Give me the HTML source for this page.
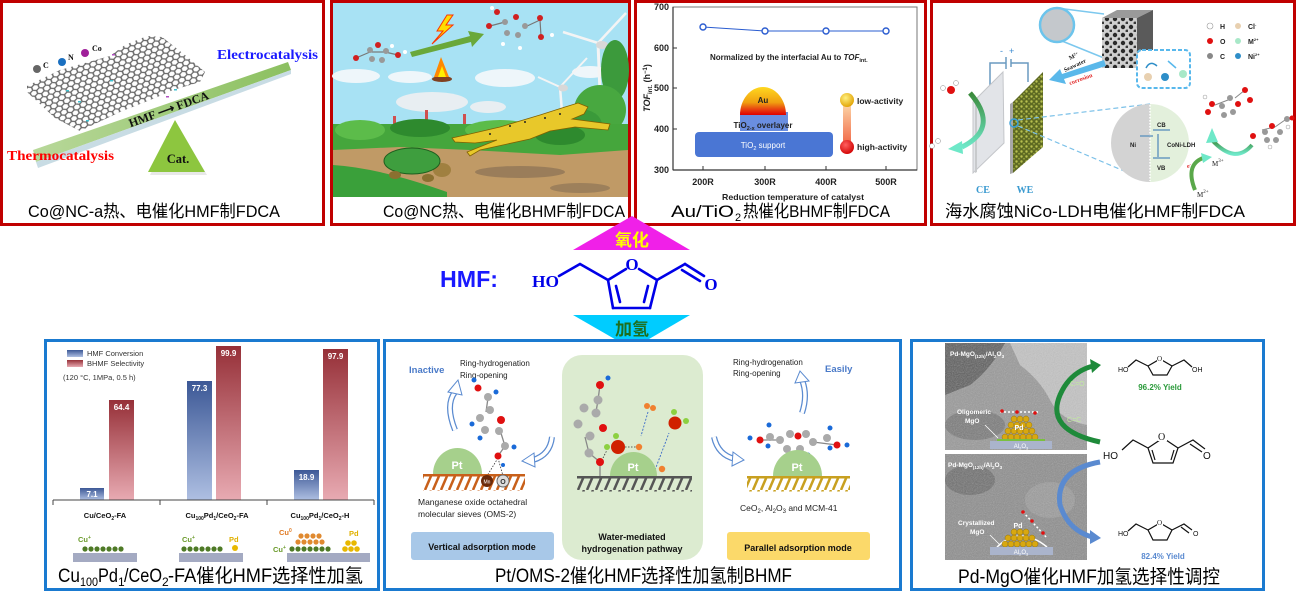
<!DOCTYPE html>
<html><head><meta charset="utf-8">
<style>
html,body{margin:0;padding:0;background:#fff;}
svg{display:block;}
text{font-family:"Liberation Sans","Noto Sans CJK SC",sans-serif;}
.cap{font-family:"Liberation Sans","Noto Sans CJK SC",sans-serif;font-size:17px;fill:#000;}
.capb{font-family:"Liberation Sans","Noto Sans CJK SC",sans-serif;font-size:19px;fill:#000;}
.tm{font-family:"Liberation Serif","Noto Serif CJK SC",serif;}
.b{font-weight:bold;}
</style></head><body>
<svg width="1298" height="598" viewBox="0 0 1298 598" xmlns="http://www.w3.org/2000/svg">
<defs>
  <pattern id="hex" patternUnits="userSpaceOnUse" width="6.93" height="12" patternTransform="rotate(-22) scale(1,0.8)">
    <rect width="6.93" height="12" fill="#fff"/>
    <path d="M0,2 L3.46,0 L6.93,2 L6.93,6 L3.46,8 L0,6 Z M3.46,8 L3.46,12" fill="none" stroke="#666" stroke-width="1.5"/>
  </pattern>
  <linearGradient id="beam" x1="0" y1="0" x2="1" y2="0">
    <stop offset="0" stop-color="#b8d89a"/><stop offset="1" stop-color="#8cc060"/>
  </linearGradient>
  <linearGradient id="au" x1="0" y1="0" x2="0" y2="1">
    <stop offset="0" stop-color="#ffd820"/><stop offset="0.55" stop-color="#f0a010"/><stop offset="0.8" stop-color="#e84010"/><stop offset="1" stop-color="#e00000"/>
  </linearGradient>
  <linearGradient id="leg" x1="0" y1="0" x2="0" y2="1">
    <stop offset="0" stop-color="#fde0b0"/><stop offset="1" stop-color="#f06040"/>
  </linearGradient>
  <radialGradient id="gold" cx="0.4" cy="0.35" r="0.7">
    <stop offset="0" stop-color="#fff080"/><stop offset="1" stop-color="#e0a000"/>
  </radialGradient>
  <radialGradient id="redb" cx="0.4" cy="0.35" r="0.7">
    <stop offset="0" stop-color="#ff6060"/><stop offset="1" stop-color="#d00000"/>
  </radialGradient>
  <linearGradient id="bb" x1="0" y1="0" x2="0" y2="1">
    <stop offset="0" stop-color="#3c5896"/><stop offset="1" stop-color="#aebfe2"/>
  </linearGradient>
  <linearGradient id="rb" x1="0" y1="0" x2="0" y2="1">
    <stop offset="0" stop-color="#963038"/><stop offset="1" stop-color="#e8aab2"/>
  </linearGradient>
  <linearGradient id="garr" x1="0" y1="0" x2="0" y2="1">
    <stop offset="0" stop-color="#3a8a3a"/><stop offset="1" stop-color="#6ee8c8"/>
  </linearGradient>
  <pattern id="hatchO" patternUnits="userSpaceOnUse" width="8" height="14">
    <path d="M7,0 L1,14" stroke="#c8601a" stroke-width="2.5"/>
  </pattern>
  <pattern id="hatchG" patternUnits="userSpaceOnUse" width="9" height="14">
    <path d="M8,0 L2,14" stroke="#555" stroke-width="2.5"/>
  </pattern>
  <pattern id="hatchY" patternUnits="userSpaceOnUse" width="8" height="14">
    <path d="M7,0 L1,14" stroke="#c8a020" stroke-width="2.5"/>
  </pattern>
  <pattern id="sem" patternUnits="userSpaceOnUse" width="8" height="8">
    <rect width="8" height="8" fill="#cfcfcf"/>
    <circle cx="3" cy="3" r="2.2" fill="#2a2a2a"/><circle cx="7" cy="7" r="1.5" fill="#3a3a3a"/>
  </pattern>
  <pattern id="weP" patternUnits="userSpaceOnUse" width="5" height="5">
    <rect width="5" height="5" fill="#5e6a22"/>
    <circle cx="1.5" cy="1.5" r="1.2" fill="#b8c050"/><circle cx="4" cy="3.8" r="0.9" fill="#9aa440"/>
  </pattern>
  <filter id="noise" x="0" y="0" width="100%" height="100%">
    <feTurbulence type="fractalNoise" baseFrequency="0.9" numOctaves="1" result="n"/>
    <feColorMatrix type="saturate" values="0" in="n" result="g"/>
    <feComponentTransfer in="g" result="g2"><feFuncA type="linear" slope="0.35"/></feComponentTransfer>
    <feComposite in="g2" in2="SourceGraphic" operator="in" result="c"/>
    <feMerge><feMergeNode in="SourceGraphic"/><feMergeNode in="c"/></feMerge>
  </filter>
</defs>

<!-- ================= PANEL 1 ================= -->
<rect x="1.5" y="1.5" width="322" height="223" fill="#fff" stroke="#c00000" stroke-width="3"/>
<polygon points="27,86 60,70 110,56 125,45 147,36 162,37 185,55 205,72 200,82 173,90 155,98 120,112 80,131 55,118 27,92" fill="url(#hex)"/>
<rect x="66" y="90" width="3" height="1.5" fill="#40c0d0"/><rect x="78" y="101" width="3" height="1.5" fill="#40c0d0"/>
<rect x="110" y="80" width="3" height="1.5" fill="#40c0d0"/><rect x="174" y="89" width="3" height="1.5" fill="#40c0d0"/>
<rect x="166" y="96" width="3" height="1.5" fill="#b050c0"/><rect x="86" y="120" width="3" height="1.5" fill="#40c0d0"/>
<rect x="112" y="54" width="3" height="1.5" fill="#b050c0"/>
<circle cx="37" cy="69" r="4" fill="#666"/><text x="43" y="68" class="tm b" font-size="8" fill="#111">C</text>
<circle cx="62" cy="62" r="4" fill="#1a6fc0"/><text x="68" y="60" class="tm b" font-size="8" fill="#111">N</text>
<circle cx="85" cy="53" r="4" fill="#a0209a"/><text x="92" y="51" class="tm b" font-size="8" fill="#111">Co</text>
<polygon points="33,150 288,62 291,70 36,162" fill="url(#beam)"/>
<polygon points="36,162 291,70 291,74 38,168" fill="#c8dce4"/>
<text x="170" y="113" class="tm b" font-size="12" fill="#111" text-anchor="middle" transform="rotate(-20 170 113)">HMF ⟶ FDCA</text>
<text x="217" y="59" class="tm b" font-size="13.5" fill="#1a1aff" textLength="101" lengthAdjust="spacingAndGlyphs">Electrocatalysis</text>
<text x="7" y="160" class="tm b" font-size="13.5" fill="#ff0000" textLength="107" lengthAdjust="spacingAndGlyphs">Thermocatalysis</text>
<polygon points="177,124 150,175 207,175" fill="#d8d8d8" opacity="0.6"/>
<polygon points="175,120 148,172 205,172" fill="#8dc63f"/>
<text x="178" y="163" class="tm b" font-size="12.5" fill="#111" text-anchor="middle">Cat.</text>
<text x="28" y="217" class="cap" textLength="252" lengthAdjust="spacingAndGlyphs">Co@NC-a热、电催化HMF制FDCA</text>

<!-- ================= PANEL 2 ================= -->
<rect x="331.5" y="1.5" width="298" height="223" fill="#fff" stroke="#c00000" stroke-width="3"/>
<rect x="333" y="3" width="295" height="194" fill="#a8e2f4"/>
<ellipse cx="356" cy="76" rx="24" ry="7" fill="#eef6fa"/>
<ellipse cx="410" cy="77" rx="22" ry="6" fill="#eef6fa"/>
<ellipse cx="505" cy="78" rx="30" ry="9" fill="#eef6fa"/>
<ellipse cx="432" cy="102" rx="36" ry="10" fill="#e8eef2"/>
<ellipse cx="488" cy="107" rx="18" ry="6" fill="#e8eef2"/>
<ellipse cx="590" cy="72" rx="18" ry="6" fill="#eef6fa"/>
<rect x="393" y="116" width="3" height="12" fill="#d05050"/>
<rect x="425" y="110" width="3" height="16" fill="#d05050"/>
<rect x="463" y="114" width="3" height="12" fill="#d05050"/>
<line x1="598" y1="43" x2="600" y2="92" stroke="#f4f4f4" stroke-width="3"/>
<line x1="598" y1="43" x2="626" y2="13" stroke="#f4f4f4" stroke-width="2.5"/>
<line x1="598" y1="43" x2="563" y2="32" stroke="#f4f4f4" stroke-width="2.5"/>
<ellipse cx="602" cy="45" rx="6" ry="4" fill="#d8d8d8"/>
<line x1="560" y1="87" x2="562" y2="112" stroke="#f4f4f4" stroke-width="2.5"/>
<line x1="560" y1="87" x2="587" y2="58" stroke="#f4f4f4" stroke-width="2"/>
<line x1="560" y1="87" x2="538" y2="77" stroke="#f4f4f4" stroke-width="2"/>
<ellipse cx="563" cy="88" rx="5" ry="3.5" fill="#d8d8d8"/>
<ellipse cx="615" cy="70" rx="14" ry="30" fill="#3c9a3c"/>
<ellipse cx="600" cy="110" rx="26" ry="25" fill="#48a840"/>
<ellipse cx="580" cy="125" rx="22" ry="16" fill="#3a9a3a"/>
<rect x="333" y="124" width="295" height="36" fill="#45a63c"/>
<ellipse cx="360" cy="130" rx="25" ry="10" fill="#5cbc4a"/>
<ellipse cx="420" cy="128" rx="30" ry="9" fill="#2e8a2e"/>
<ellipse cx="500" cy="130" rx="35" ry="10" fill="#5cbc4a"/>
<ellipse cx="560" cy="135" rx="25" ry="10" fill="#2e8a2e"/>
<path d="M333,150 L400,147 L470,150 L560,155 L628,150 L628,197 L333,197 Z" fill="#c09a66"/>
<ellipse cx="520" cy="172" rx="45" ry="6" fill="#7a6650" opacity="0.55"/>
<ellipse cx="580" cy="188" rx="30" ry="5" fill="#7a6650" opacity="0.5"/>
<path d="M333,165 Q380,168 447,192 L447,197 L333,197 Z" fill="#3aa03a"/>
<ellipse cx="442" cy="170" rx="9" ry="7" fill="#a08040"/>
<ellipse cx="412" cy="161" rx="28" ry="13" fill="#3e9e3e" stroke="#1e5e1e" stroke-width="1"/>
<ellipse cx="395" cy="175" rx="6" ry="4" fill="#8a7030"/>
<ellipse cx="428" cy="178" rx="6" ry="4" fill="#8a7030"/>
<path d="M452,138 L470,134 L500,127 L540,115 L565,107 L578,103 L588,107 L584,114 L572,119 L610,124 L608,130 L575,127 L550,131 L530,139 L480,150 L470,156 L467,152 L497,140 L475,143 L455,142 Z" fill="#e8c82a" stroke="#806000" stroke-width="0.8"/>
<circle cx="510" cy="126" r="1" fill="#222"/><circle cx="525" cy="122" r="1" fill="#222"/><circle cx="545" cy="118" r="1" fill="#222"/><circle cx="560" cy="114" r="1" fill="#222"/><circle cx="490" cy="134" r="1" fill="#222"/>
<g stroke="#777" stroke-width="1.2">
<line x1="356" y1="58" x2="370" y2="52"/><line x1="370" y1="52" x2="385" y2="52"/><line x1="385" y1="52" x2="398" y2="55"/>
</g>
<circle cx="370" cy="50" r="3" fill="#999"/><circle cx="378" cy="45" r="3" fill="#d02020"/><circle cx="386" cy="51" r="3" fill="#999"/><circle cx="382" cy="60" r="3" fill="#999"/><circle cx="372" cy="59" r="3" fill="#999"/>
<circle cx="356" cy="58" r="3" fill="#d02020"/><circle cx="398" cy="55" r="3" fill="#d02020"/><circle cx="392" cy="46" r="2" fill="#fff"/><circle cx="405" cy="52" r="2" fill="#fff"/>
<polygon points="447,15 437,31 443,31 432,44 453,25 446,25 453,15" fill="#ffdd00" stroke="#ff3300" stroke-width="1"/>
<polygon points="410,52 470,36 468,31 484,34 472,47 471,42 412,57" fill="#6aa83a"/>
<ellipse cx="442" cy="79" rx="10" ry="3" fill="#804020"/>
<polygon points="434,77 441,57 449,77" fill="#ff8800"/>
<polygon points="438,77 442,66 446,77" fill="#ffee00"/>
<g stroke="#777" stroke-width="1.2"><line x1="490" y1="26" x2="505" y2="22"/><line x1="525" y1="27" x2="540" y2="20"/><line x1="540" y1="20" x2="541" y2="36"/></g>
<circle cx="505" cy="22" r="3" fill="#999"/><circle cx="516" cy="17" r="3" fill="#d02020"/><circle cx="525" cy="26" r="3" fill="#999"/><circle cx="518" cy="35" r="3" fill="#999"/><circle cx="507" cy="33" r="3" fill="#999"/>
<circle cx="489" cy="26" r="3" fill="#d02020"/><circle cx="497" cy="12" r="3" fill="#d02020"/><circle cx="540" cy="18" r="3" fill="#d02020"/><circle cx="541" cy="37" r="3" fill="#d02020"/>
<circle cx="492" cy="8" r="2" fill="#fff"/><circle cx="552" cy="35" r="2" fill="#fff"/><circle cx="520" cy="48" r="2" fill="#fff"/><circle cx="503" cy="44" r="2" fill="#fff"/>
<text x="383" y="217" class="cap" textLength="242" lengthAdjust="spacingAndGlyphs">Co@NC热、电催化BHMF制FDCA</text>

<!-- ================= PANEL 3 ================= -->
<rect x="635.5" y="1.5" width="290" height="223" fill="#fff" stroke="#c00000" stroke-width="3"/>
<rect x="673" y="7" width="244" height="163" fill="none" stroke="#777" stroke-width="1"/>
<line x1="673" y1="7" x2="673" y2="170" stroke="#333" stroke-width="1.2"/>
<line x1="673" y1="170" x2="917" y2="170" stroke="#333" stroke-width="1.2"/>
<g font-size="9" font-weight="bold" fill="#222" text-anchor="end">
<text x="669" y="10">700</text><text x="669" y="51">600</text><text x="669" y="91">500</text><text x="669" y="132">400</text><text x="669" y="173">300</text>
</g>
<g stroke="#333" stroke-width="1"><line x1="673" y1="48" x2="677" y2="48"/><line x1="673" y1="88" x2="677" y2="88"/><line x1="673" y1="129" x2="677" y2="129"/>
<line x1="703" y1="170" x2="703" y2="166"/><line x1="765" y1="170" x2="765" y2="166"/><line x1="826" y1="170" x2="826" y2="166"/><line x1="886" y1="170" x2="886" y2="166"/></g>
<g font-size="9" font-weight="bold" fill="#222" text-anchor="middle">
<text x="703" y="185">200R</text><text x="765" y="185">300R</text><text x="826" y="185">400R</text><text x="886" y="185">500R</text>
</g>
<text x="793" y="200" font-size="8.5" font-weight="bold" fill="#222" text-anchor="middle" textLength="142" lengthAdjust="spacingAndGlyphs">Reduction temperature of catalyst</text>
<text transform="translate(650,88) rotate(-90)" font-size="9" font-weight="bold" fill="#222" text-anchor="middle"><tspan font-style="italic">TOF</tspan><tspan font-size="6" dy="2">int.</tspan><tspan dy="-2"> (h</tspan><tspan font-size="6" dy="-3">−1</tspan><tspan dy="3">)</tspan></text>
<polyline points="703,27 765,31 826,31 886,31" fill="none" stroke="#2a5cd0" stroke-width="1"/>
<g fill="#fff" stroke="#2a5cd0" stroke-width="1.4"><circle cx="703" cy="27" r="3"/><circle cx="765" cy="31" r="3"/><circle cx="826" cy="31" r="3"/><circle cx="886" cy="31" r="3"/></g>
<text x="710" y="60" font-size="8" font-weight="bold" fill="#222">Normalized by the interfacial Au to <tspan font-style="italic">TOF</tspan><tspan font-size="5.5" dy="2">int.</tspan></text>
<rect x="740" y="112" width="48" height="19" fill="#6a8ee0"/>
<path d="M740,115 A23,28 0 0 1 786,115 Z" fill="url(#au)"/>
<text x="763" y="103" font-size="8" font-weight="bold" fill="#222" text-anchor="middle">Au</text>
<text x="763" y="128" font-size="8" font-weight="bold" fill="#222" text-anchor="middle">TiO<tspan font-size="5.5" dy="2">2-x</tspan><tspan dy="-2"> overlayer</tspan></text>
<rect x="695" y="132" width="138" height="25" rx="4" fill="#4a76d4"/>
<text x="763" y="148" font-size="8" fill="#fff" text-anchor="middle">TiO<tspan font-size="5.5" dy="2">2</tspan><tspan dy="-2"> support</tspan></text>
<rect x="843" y="100" width="8" height="47" fill="url(#leg)"/>
<circle cx="847" cy="100" r="7" fill="url(#gold)"/>
<circle cx="847" cy="147" r="7" fill="url(#redb)"/>
<text x="857" y="104" font-size="8.5" font-weight="bold" fill="#222">low-activity</text>
<text x="857" y="150" font-size="8.5" font-weight="bold" fill="#222">high-activity</text>
<text x="671" y="217" class="cap" textLength="63" lengthAdjust="spacingAndGlyphs">Au/TiO</text>
<text x="735" y="221" style="font-size:11px;fill:#000;">2</text>
<text x="743" y="217" class="cap" textLength="147" lengthAdjust="spacingAndGlyphs">热催化BHMF制FDCA</text>

<!-- ================= PANEL 4 ================= -->
<rect x="931.5" y="1.5" width="363" height="223" fill="#fff" stroke="#c00000" stroke-width="3"/>
<line x1="1057" y1="8" x2="1104" y2="14" stroke="#7cc8ee" stroke-width="1.5"/>
<line x1="1062" y1="41" x2="1104" y2="58" stroke="#7cc8ee" stroke-width="1.5"/>
<circle cx="1057" cy="25" r="17" fill="#c4c8cc" stroke="#6cc4ec" stroke-width="2.5"/>
<polygon points="1102,18 1117,10 1153,10 1137,18" fill="#9a9a9a"/>
<polygon points="1137,18 1153,10 1153,60 1137,68" fill="#5a5a5a"/>
<rect x="1102" y="18" width="35" height="50" fill="url(#sem)"/>
<rect x="1137" y="50" width="53" height="38" rx="5" fill="#fff" stroke="#58b8ec" stroke-width="2" stroke-dasharray="4 2"/>
<circle cx="1148" cy="77" r="4" fill="#e8d0b0"/><circle cx="1165" cy="77" r="4" fill="#2e8ec8"/><circle cx="1183" cy="74" r="4" fill="#a8e8c8"/>
<path d="M1146,68 Q1150,60 1157,66" fill="none" stroke="#2e8ec8" stroke-width="1.5"/>
<line x1="1176" y1="68" x2="1168" y2="61" stroke="#58b8ec" stroke-width="1.5"/>
<g class="tm" font-size="7" font-weight="bold" fill="#222">
<circle cx="1210" cy="26" r="3" fill="#fff" stroke="#999" stroke-width="0.6"/><text x="1220" y="29">H</text>
<circle cx="1238" cy="26" r="3" fill="#e8d0b0"/><text x="1248" y="29">Cl<tspan font-size="4" dy="-3">-</tspan></text>
<circle cx="1210" cy="41" r="3" fill="#e01010"/><text x="1220" y="44">O</text>
<circle cx="1238" cy="41" r="3" fill="#a8e8c8"/><text x="1248" y="44">M<tspan font-size="4" dy="-3">2+</tspan></text>
<circle cx="1210" cy="56" r="3" fill="#888"/><text x="1220" y="59">C</text>
<circle cx="1238" cy="56" r="3" fill="#2e8ec8"/><text x="1248" y="59">Ni<tspan font-size="4" dy="-3">2+</tspan></text>
</g>
<polyline points="990,86 990,63 1006,63" fill="none" stroke="#6a9ac0" stroke-width="1.5"/>
<polyline points="1011,63 1028,63 1028,82" fill="none" stroke="#6a9ac0" stroke-width="1.5"/>
<line x1="1006" y1="57" x2="1006" y2="69" stroke="#6a9ac0" stroke-width="1.5"/>
<line x1="1011" y1="59" x2="1011" y2="67" stroke="#6a9ac0" stroke-width="1.5"/>
<text x="1000" y="54" font-size="9" fill="#3a8ad0">-</text><text x="1009" y="54" font-size="9" fill="#3a8ad0">+</text>
<polygon points="973,102 1003,72 1004,143 973,173" fill="#e2e4e8" stroke="#c4c6ca" stroke-width="1"/>
<polygon points="975,102 977,101 977,172 975,173" fill="#c8cacc"/>
<polygon points="1013,102 1043,72 1043,147 1013,173" fill="url(#weP)"/>
<polygon points="1010,104 1013,102 1013,173 1010,174" fill="#a8a8a8"/>
<circle cx="1014" cy="123" r="4" fill="none" stroke="#3aa0d8" stroke-width="1.5"/>
<line x1="1018" y1="120" x2="1150" y2="104" stroke="#7ac0e8" stroke-width="1.2" stroke-dasharray="5 3"/>
<line x1="1018" y1="126" x2="1150" y2="182" stroke="#7ac0e8" stroke-width="1.2" stroke-dasharray="5 3"/>
<text x="983" y="193" class="tm b" font-size="10" fill="#3a9ad0" text-anchor="middle">CE</text>
<text x="1025" y="193" class="tm b" font-size="10" fill="#3a9ad0" text-anchor="middle">WE</text>
<polygon points="1104,60 1062,74 1060,69 1049,80 1066,84 1064,79 1106,66" fill="#5ab8ea"/>
<text x="1070" y="60" class="tm b" font-size="6" fill="#222" transform="rotate(-25 1070 60)">M<tspan font-size="4" dy="-2">2+</tspan></text>
<text x="1065" y="72" class="tm b" font-size="6" fill="#222" transform="rotate(-25 1065 72)">Seawater</text>
<text x="1070" y="85" class="tm b" font-size="6" fill="#e02020" transform="rotate(-20 1070 85)">corrosion</text>
<path d="M1150,104 A39,39 0 0 0 1150,182 Z" fill="#d3d3d3"/>
<path d="M1150,104 A39,39 0 0 1 1150,182 Z" fill="#e3f0dc"/>
<line x1="1150" y1="105" x2="1150" y2="181" stroke="#fff" stroke-width="1.5" stroke-dasharray="1.5 1.5"/>
<line x1="1153" y1="130" x2="1170" y2="130" stroke="#6a9ac0" stroke-width="1.5"/>
<line x1="1153" y1="158" x2="1170" y2="158" stroke="#6a9ac0" stroke-width="1.5"/>
<line x1="1158" y1="157" x2="1158" y2="134" stroke="#6a9ac0" stroke-width="1.5"/>
<line x1="1153" y1="136" x2="1140" y2="136" stroke="#6a9ac0" stroke-width="1.5"/>
<g class="tm b" font-size="6" fill="#222">
<text x="1157" y="127">CB</text><text x="1157" y="170">VB</text><text x="1130" y="147">Ni</text><text x="1167" y="147">CoNi-LDH</text>
</g>
<path d="M970,93 Q1000,128 962,147" fill="none" stroke="url(#garr)" stroke-width="5"/>
<polygon points="962,141 948,149 963,154" fill="#6ee8c8"/>
<circle cx="943" cy="88" r="2.5" fill="#fff" stroke="#888" stroke-width="0.5"/><circle cx="956" cy="83" r="2.5" fill="#fff" stroke="#888" stroke-width="0.5"/><circle cx="951" cy="90" r="4" fill="#e01010"/>
<circle cx="932" cy="146" r="2.5" fill="#fff" stroke="#888" stroke-width="0.5"/><circle cx="938" cy="141" r="2.5" fill="#fff" stroke="#888" stroke-width="0.5"/>
<g stroke="#888" stroke-width="1">
<line x1="1215" y1="105" x2="1228" y2="100"/><line x1="1235" y1="98" x2="1245" y2="90"/>
<line x1="1262" y1="130" x2="1275" y2="127"/><line x1="1275" y1="127" x2="1285" y2="120"/>
</g>
<circle cx="1222" cy="106" r="3" fill="#999"/><circle cx="1230" cy="98" r="3" fill="#999"/><circle cx="1238" cy="104" r="3" fill="#e01010"/><circle cx="1233" cy="112" r="3" fill="#999"/><circle cx="1224" cy="115" r="3" fill="#999"/>
<circle cx="1212" cy="104" r="3" fill="#e01010"/><circle cx="1208" cy="112" r="3" fill="#e01010"/><circle cx="1245" cy="90" r="3" fill="#e01010"/><circle cx="1250" cy="100" r="3" fill="#e01010"/><circle cx="1205" cy="97" r="2" fill="#fff" stroke="#999" stroke-width="0.5"/>
<circle cx="1265" cy="132" r="3" fill="#999"/><circle cx="1272" cy="126" r="3" fill="#e01010"/><circle cx="1280" cy="132" r="3" fill="#999"/><circle cx="1276" cy="140" r="3" fill="#999"/><circle cx="1267" cy="140" r="3" fill="#999"/>
<circle cx="1253" cy="136" r="3" fill="#e01010"/><circle cx="1287" cy="119" r="3" fill="#999"/><circle cx="1292" cy="118" r="2.5" fill="#e01010"/><circle cx="1288" cy="127" r="2" fill="#fff" stroke="#999" stroke-width="0.5"/><circle cx="1270" cy="147" r="2" fill="#fff" stroke="#999" stroke-width="0.5"/>
<path d="M1252,145 Q1235,165 1212,140" fill="none" stroke="url(#garr)" stroke-width="4"/>
<polygon points="1206,143 1212,128 1218,142" fill="#6ee8c8"/>
<path d="M1195,190 Q1185,165 1203,158" fill="none" stroke="#5aa84a" stroke-width="4"/>
<polygon points="1201,153 1212,157 1203,163" fill="#6ee8c8"/>
<text x="1187" y="168" class="tm b" font-size="6" fill="#e02020">e<tspan font-size="4" dy="-2">-</tspan></text>
<text x="1212" y="166" class="tm" font-size="7" fill="#222">M<tspan font-size="5" dy="-4">3+</tspan></text>
<text x="1197" y="197" class="tm" font-size="7" fill="#222">M<tspan font-size="5" dy="-4">2+</tspan></text>
<text x="945" y="217" class="cap" textLength="300" lengthAdjust="spacingAndGlyphs">海水腐蚀NiCo-LDH电催化HMF制FDCA</text>

<!-- ================= MIDDLE ================= -->
<polygon points="632,216 573,250 690,250" fill="#f020e8"/>
<text x="632" y="246" font-size="17" font-weight="bold" fill="#ffff00" text-anchor="middle">氧化</text>
<text x="440" y="287" font-size="23" font-weight="bold" fill="#1a1aff" textLength="58" lengthAdjust="spacingAndGlyphs">HMF:</text>
<g stroke="#0000e8" stroke-width="2.6" fill="none" stroke-linecap="round">
<polyline points="559,276 580,264 608,280"/>
<line x1="608" y1="280" x2="626" y2="269"/>
<line x1="639" y1="269" x2="657" y2="280"/>
<line x1="608" y1="280" x2="613" y2="308"/>
<line x1="613" y1="308" x2="650" y2="308"/>
<line x1="650" y1="308" x2="657" y2="280"/>
<line x1="616" y1="286" x2="620" y2="302"/>
<line x1="648" y1="286" x2="644" y2="302"/>
<line x1="657" y1="280" x2="685" y2="264"/>
<line x1="685" y1="264" x2="704" y2="276"/>
<line x1="682" y1="270" x2="700" y2="281"/>
</g>
<text x="532" y="287" class="tm b" font-size="17" fill="#0000e8" textLength="27" lengthAdjust="spacingAndGlyphs">HO</text>
<text x="632" y="270" class="tm b" font-size="17" fill="#0000e8" text-anchor="middle">O</text>
<text x="711" y="290" class="tm b" font-size="17" fill="#0000e8" text-anchor="middle">O</text>
<polygon points="573,315 690,315 632,349" fill="#00ccff"/>
<text x="632" y="335" font-size="17" font-weight="bold" fill="#1e6e1e" text-anchor="middle">加氢</text>

<!-- ================= PANEL A (bottom-left) ================= -->
<rect x="45.5" y="340.5" width="333" height="249" fill="#fff" stroke="#1a7ad0" stroke-width="3"/>
<rect x="67" y="350" width="16" height="7" fill="url(#bb)"/>
<rect x="67" y="360" width="16" height="7" fill="url(#rb)"/>
<g font-size="7.5" fill="#333">
<text x="87" y="356">HMF Conversion</text><text x="87" y="366">BHMF Selectivity</text>
<text x="63" y="380">(120 °C, 1MPa, 0.5 h)</text>
</g>
<rect x="80" y="488" width="24" height="12" fill="url(#bb)"/>
<rect x="109" y="400" width="25" height="100" fill="url(#rb)"/>
<rect x="187" y="381" width="25" height="119" fill="url(#bb)"/>
<rect x="216" y="346" width="25" height="154" fill="url(#rb)"/>
<rect x="294" y="470" width="25" height="30" fill="url(#bb)"/>
<rect x="323" y="349" width="25" height="151" fill="url(#rb)"/>
<g font-size="8" font-weight="bold" fill="#fff" text-anchor="middle">
<text x="92" y="497">7.1</text><text x="121.5" y="410">64.4</text>
<text x="199.5" y="391">77.3</text><text x="228.5" y="356">99.9</text>
<text x="306.5" y="480">18.9</text><text x="335.5" y="359">97.9</text>
</g>
<line x1="53" y1="500" x2="374" y2="500" stroke="#444" stroke-width="1"/>
<g stroke="#444" stroke-width="1"><line x1="53" y1="500" x2="53" y2="505"/><line x1="160" y1="500" x2="160" y2="505"/><line x1="267" y1="500" x2="267" y2="505"/><line x1="374" y1="500" x2="374" y2="505"/></g>
<g font-size="7.5" font-weight="bold" fill="#111" text-anchor="middle">
<text x="105" y="518">Cu/CeO<tspan font-size="5" dy="2">2</tspan><tspan dy="-2">-FA</tspan></text>
<text x="217" y="518">Cu<tspan font-size="5" dy="2">100</tspan><tspan dy="-2">Pd</tspan><tspan font-size="5" dy="2">1</tspan><tspan dy="-2">/CeO</tspan><tspan font-size="5" dy="2">2</tspan><tspan dy="-2">-FA</tspan></text>
<text x="320" y="518">Cu<tspan font-size="5" dy="2">100</tspan><tspan dy="-2">Pd</tspan><tspan font-size="5" dy="2">1</tspan><tspan dy="-2">/CeO</tspan><tspan font-size="5" dy="2">2</tspan><tspan dy="-2">-H</tspan></text>
</g>
<rect x="73" y="553" width="64" height="9" fill="#a4aac2"/>
<rect x="179" y="553" width="64" height="9" fill="#a4aac2"/>
<rect x="287" y="553" width="83" height="9" fill="#a4aac2"/>
<g fill="#4e7a26">
<circle cx="85" cy="549" r="2.6"/><circle cx="91" cy="549" r="2.6"/><circle cx="97" cy="549" r="2.6"/><circle cx="103" cy="549" r="2.6"/><circle cx="109" cy="549" r="2.6"/><circle cx="115" cy="549" r="2.6"/><circle cx="121" cy="549" r="2.6"/>
<circle cx="184" cy="549" r="2.6"/><circle cx="190" cy="549" r="2.6"/><circle cx="196" cy="549" r="2.6"/><circle cx="202" cy="549" r="2.6"/><circle cx="208" cy="549" r="2.6"/><circle cx="214" cy="549" r="2.6"/><circle cx="220" cy="549" r="2.6"/>
<circle cx="292" cy="549" r="2.6"/><circle cx="298" cy="549" r="2.6"/><circle cx="304" cy="549" r="2.6"/><circle cx="310" cy="549" r="2.6"/><circle cx="316" cy="549" r="2.6"/><circle cx="322" cy="549" r="2.6"/><circle cx="328" cy="549" r="2.6"/>
</g>
<g fill="#e08a30">
<circle cx="298" cy="542" r="2.6"/><circle cx="304" cy="542" r="2.6"/><circle cx="310" cy="542" r="2.6"/><circle cx="316" cy="542" r="2.6"/><circle cx="322" cy="542" r="2.6"/>
<circle cx="301" cy="536" r="2.6"/><circle cx="307" cy="536" r="2.6"/><circle cx="313" cy="536" r="2.6"/><circle cx="319" cy="536" r="2.6"/>
</g>
<g fill="#e8b800">
<circle cx="235" cy="548" r="3"/>
<circle cx="345" cy="549" r="2.8"/><circle cx="351" cy="549" r="2.8"/><circle cx="357" cy="549" r="2.8"/><circle cx="348" cy="543" r="2.8"/><circle cx="354" cy="543" r="2.8"/>
</g>
<g font-size="7.5" font-weight="bold">
<text x="78" y="542" fill="#6a9a2a">Cu<tspan font-size="5" dy="-3">+</tspan></text>
<text x="182" y="542" fill="#6a9a2a">Cu<tspan font-size="5" dy="-3">+</tspan></text>
<text x="229" y="542" fill="#e0b000">Pd</text>
<text x="279" y="535" fill="#e07820">Cu<tspan font-size="5" dy="-3">0</tspan></text>
<text x="273" y="552" fill="#6a9a2a">Cu<tspan font-size="5" dy="-3">+</tspan></text>
<text x="349" y="536" fill="#e0b000">Pd</text>
</g>
<text x="58" y="582" class="capb" textLength="22" lengthAdjust="spacingAndGlyphs">Cu</text>
<text x="80" y="586" style="font-size:12px;fill:#000;" textLength="18" lengthAdjust="spacingAndGlyphs">100</text>
<text x="98" y="582" class="capb" textLength="20" lengthAdjust="spacingAndGlyphs">Pd</text>
<text x="118" y="586" style="font-size:12px;fill:#000;">1</text>
<text x="124" y="582" class="capb" textLength="38" lengthAdjust="spacingAndGlyphs">/CeO</text>
<text x="162" y="586" style="font-size:12px;fill:#000;">2</text>
<text x="168" y="582" class="capb" textLength="195" lengthAdjust="spacingAndGlyphs">-FA催化HMF选择性加氢</text>

<!-- ================= PANEL B (bottom-middle) ================= -->
<rect x="384.5" y="340.5" width="516" height="249" fill="#fff" stroke="#1a7ad0" stroke-width="3"/>
<rect x="562" y="355" width="141" height="205" rx="20" fill="#dcebd0"/>
<text x="409" y="373" font-size="9.5" font-weight="bold" fill="#4a7ac8">Inactive</text>
<text x="460" y="366" font-size="8" fill="#222">Ring-hydrogenation</text>
<text x="460" y="378" font-size="8" fill="#222">Ring-opening</text>
<path d="M455,430 Q445,405 455,392" fill="none" stroke="#5b8bd0" stroke-width="6"/>
<path d="M455,430 Q445,405 455,392" fill="none" stroke="#fff" stroke-width="3.5"/>
<polygon points="448,392 458,380 462,395" fill="#fff" stroke="#5b8bd0" stroke-width="1"/>
<path d="M552,437 Q550,455 533,460" fill="none" stroke="#5b8bd0" stroke-width="6"/>
<path d="M552,437 Q550,455 533,460" fill="none" stroke="#fff" stroke-width="3.5"/>
<polygon points="534,453 522,461 535,467" fill="#fff" stroke="#5b8bd0" stroke-width="1"/>
<g stroke="#888" stroke-width="1.3">
<line x1="488" y1="398" x2="486" y2="412"/><line x1="500" y1="430" x2="505" y2="446"/><line x1="505" y1="446" x2="498" y2="456"/>
</g>
<g stroke="#333" stroke-width="0.8" stroke-dasharray="1.5 1.5"><line x1="498" y1="458" x2="487" y2="476"/><line x1="498" y1="458" x2="503" y2="476"/></g>
<circle cx="480" cy="418" r="4" fill="#aaa"/><circle cx="490" cy="410" r="4" fill="#aaa"/><circle cx="501" cy="420" r="4" fill="#e01010"/><circle cx="499" cy="431" r="4" fill="#aaa"/><circle cx="485" cy="430" r="4" fill="#aaa"/>
<circle cx="488" cy="397" r="4" fill="#aaa"/><circle cx="478" cy="388" r="3.5" fill="#e01010"/><circle cx="474" cy="380" r="2.5" fill="#1a6ad8"/><circle cx="496" cy="392" r="2.5" fill="#1a6ad8"/>
<circle cx="472" cy="424" r="2.5" fill="#1a6ad8"/><circle cx="480" cy="438" r="2.5" fill="#1a6ad8"/>
<circle cx="505" cy="446" r="4" fill="#aaa"/><circle cx="514" cy="447" r="2.5" fill="#1a6ad8"/><circle cx="498" cy="456" r="3.5" fill="#e01010"/><circle cx="503" cy="465" r="2" fill="#1a6ad8"/>
<path d="M433,474 A24.5,26 0 0 1 482,474 Z" fill="#a6d08c"/>
<text x="457" y="469" font-size="11" font-weight="bold" fill="#fff" text-anchor="middle">Pt</text>
<rect x="423" y="474" width="102" height="2.5" fill="#c8601a"/>
<rect x="423" y="476.5" width="102" height="14" fill="url(#hatchO)"/>
<circle cx="487" cy="481" r="6" fill="#6a2a0a"/><text x="487" y="483.5" font-size="5" fill="#fff" text-anchor="middle">Mn</text>
<circle cx="503" cy="481" r="6" fill="#ddd" stroke="#666" stroke-width="1"/><text x="503" y="484" font-size="7" font-weight="bold" fill="#333" text-anchor="middle">O</text>
<text x="418" y="505" font-size="8.5" fill="#222">Manganese oxide octahedral</text>
<text x="418" y="517" font-size="8.5" fill="#222">molecular sieves (OMS-2)</text>
<rect x="411" y="532" width="143" height="28" rx="3" fill="#a8c8e8"/>
<text x="482" y="550" font-size="9" font-weight="bold" fill="#111" text-anchor="middle">Vertical adsorption mode</text>
<g stroke="#888" stroke-width="1.3">
<line x1="600" y1="385" x2="598" y2="400"/><line x1="598" y1="400" x2="596" y2="412"/>
<line x1="585" y1="437" x2="589" y2="453"/><line x1="589" y1="453" x2="600" y2="462"/>
<line x1="600" y1="463" x2="600" y2="476"/>
</g>
<circle cx="584" cy="408" r="4.5" fill="#aaa"/><circle cx="596" cy="413" r="4.5" fill="#aaa"/><circle cx="603" cy="428" r="4" fill="#e01010"/><circle cx="590" cy="436" r="4.5" fill="#aaa"/><circle cx="578" cy="424" r="4.5" fill="#aaa"/>
<circle cx="598" cy="400" r="4.5" fill="#aaa"/><circle cx="600" cy="385" r="4" fill="#e01010"/><circle cx="608" cy="378" r="2.5" fill="#1a6ad8"/>
<circle cx="589" cy="453" r="4.5" fill="#aaa"/><circle cx="600" cy="462" r="4" fill="#e01010"/>
<line x1="603" y1="458" x2="607" y2="450" stroke="#333" stroke-width="0.8" stroke-dasharray="1.5 1.5"/>
<circle cx="607" cy="447" r="3" fill="#8cd040"/><circle cx="616" cy="436" r="3" fill="#8cd040"/>
<circle cx="618" cy="447" r="7" fill="#d02000"/>
<line x1="625" y1="447" x2="636" y2="447" stroke="#333" stroke-width="0.8" stroke-dasharray="1.5 1.5"/>
<circle cx="639" cy="447" r="3.2" fill="#f08030"/>
<circle cx="647" cy="406" r="3" fill="#f08030"/><circle cx="653" cy="408" r="3" fill="#f08030"/>
<line x1="648" y1="412" x2="641" y2="436" stroke="#3a6ac8" stroke-width="0.9" stroke-dasharray="2 1.5"/>
<circle cx="675" cy="423" r="6.5" fill="#d02000"/><circle cx="674" cy="412" r="3" fill="#8cd040"/><circle cx="686" cy="421" r="3" fill="#8cd040"/>
<line x1="655" y1="470" x2="669" y2="433" stroke="#3a6ac8" stroke-width="0.9" stroke-dasharray="2 1.5"/>
<path d="M610,476 A23.5,24 0 0 1 657,476 Z" fill="#a6d08c"/>
<text x="633" y="471" font-size="11" font-weight="bold" fill="#fff" text-anchor="middle">Pt</text>
<circle cx="662" cy="469" r="3.2" fill="#f08030"/>
<rect x="577" y="476" width="115" height="2.5" fill="#555"/>
<rect x="577" y="478.5" width="115" height="13" fill="url(#hatchG)"/>
<text x="632" y="540" font-size="9" font-weight="bold" fill="#111" text-anchor="middle">Water-mediated</text>
<text x="632" y="552" font-size="9" font-weight="bold" fill="#111" text-anchor="middle">hydrogenation pathway</text>
<text x="733" y="365" font-size="8" fill="#222">Ring-hydrogenation</text>
<text x="733" y="376" font-size="8" fill="#222">Ring-opening</text>
<text x="825" y="372" font-size="9.5" font-weight="bold" fill="#4a7ac8">Easily</text>
<path d="M802,413 Q808,395 802,380" fill="none" stroke="#5b8bd0" stroke-width="6"/>
<path d="M802,413 Q808,395 802,380" fill="none" stroke="#fff" stroke-width="3.5"/>
<polygon points="795,383 800,371 809,381" fill="#fff" stroke="#5b8bd0" stroke-width="1"/>
<path d="M714,437 Q718,455 735,459" fill="none" stroke="#5b8bd0" stroke-width="6"/>
<path d="M714,437 Q718,455 735,459" fill="none" stroke="#fff" stroke-width="3.5"/>
<polygon points="733,452 744,460 732,466" fill="#fff" stroke="#5b8bd0" stroke-width="1"/>
<g stroke="#888" stroke-width="1.3"><line x1="760" y1="440" x2="780" y2="440"/><line x1="813" y1="442" x2="837" y2="445"/></g>
<circle cx="780" cy="440" r="4" fill="#aaa"/><circle cx="790" cy="434" r="4" fill="#aaa"/><circle cx="798" cy="436" r="3.5" fill="#e01010"/><circle cx="806" cy="434" r="4" fill="#aaa"/><circle cx="813" cy="442" r="4" fill="#aaa"/><circle cx="800" cy="449" r="4" fill="#aaa"/><circle cx="787" cy="449" r="4" fill="#aaa"/>
<circle cx="770" cy="437" r="4" fill="#aaa"/><circle cx="760" cy="440" r="3.5" fill="#e01010"/><circle cx="750" cy="438" r="2.5" fill="#1a6ad8"/><circle cx="769" cy="425" r="2.5" fill="#1a6ad8"/><circle cx="768" cy="446" r="2.5" fill="#1a6ad8"/>
<circle cx="827" cy="438" r="4" fill="#aaa"/><circle cx="837" cy="445" r="3.5" fill="#e01010"/><circle cx="830" cy="428" r="2.5" fill="#1a6ad8"/><circle cx="847" cy="445" r="2.5" fill="#1a6ad8"/><circle cx="830" cy="448" r="2.5" fill="#1a6ad8"/>
<circle cx="790" cy="456" r="2.5" fill="#1a6ad8"/><circle cx="808" cy="455" r="2.5" fill="#1a6ad8"/>
<path d="M773,476 A24.5,26 0 0 1 822,476 Z" fill="#a6d08c"/>
<text x="797" y="471" font-size="11" font-weight="bold" fill="#fff" text-anchor="middle">Pt</text>
<rect x="747" y="476" width="103" height="2.5" fill="#c8a020"/>
<rect x="747" y="478.5" width="103" height="13" fill="url(#hatchY)"/>
<text x="740" y="511" font-size="8.5" fill="#222">CeO<tspan font-size="6" dy="2">2</tspan><tspan dy="-2">, Al</tspan><tspan font-size="6" dy="2">2</tspan><tspan dy="-2">O</tspan><tspan font-size="6" dy="2">3</tspan><tspan dy="-2"> and MCM-41</tspan></text>
<rect x="727" y="532" width="143" height="28" rx="3" fill="#fbd96a"/>
<text x="798" y="551" font-size="9" font-weight="bold" fill="#111" text-anchor="middle">Parallel adsorption mode</text>
<text x="495" y="582" class="capb" textLength="297" lengthAdjust="spacingAndGlyphs">Pt/OMS-2催化HMF选择性加氢制BHMF</text>

<!-- ================= PANEL C (bottom-right) ================= -->
<rect x="911.5" y="340.5" width="352" height="249" fill="#fff" stroke="#1a7ad0" stroke-width="3"/>
<g filter="url(#noise)">
<rect x="945" y="343" width="142" height="107" fill="#9a9a9a"/>
<path d="M1010,343 L1087,343 L1087,425 Q1060,420 1050,400 Q1040,380 1020,365 Z" fill="#c4c4c4"/>
<path d="M945,343 L1005,343 Q990,370 970,385 L945,395 Z" fill="#5a5a5a"/>
<ellipse cx="975" cy="425" rx="30" ry="15" fill="#7a7a7a"/>
<rect x="945" y="454" width="142" height="106" fill="#8e8e8e"/>
<ellipse cx="970" cy="480" rx="25" ry="15" fill="#6e6e6e"/>
<ellipse cx="1050" cy="500" rx="25" ry="18" fill="#9c9c9c"/>
</g>
<text x="950" y="356" font-size="6.5" font-weight="bold" fill="#fff">Pd-MgO<tspan font-size="4.5" dy="2">(12h)</tspan><tspan dy="-2">/Al</tspan><tspan font-size="4.5" dy="2">2</tspan><tspan dy="-2">O</tspan><tspan font-size="4.5" dy="2">3</tspan></text>
<text x="948" y="467" font-size="6.5" font-weight="bold" fill="#fff">Pd-MgO<tspan font-size="4.5" dy="2">(12h)</tspan><tspan dy="-2">/Al</tspan><tspan font-size="4.5" dy="2">2</tspan><tspan dy="-2">O</tspan><tspan font-size="4.5" dy="2">3</tspan></text>
<line x1="1000" y1="412" x2="1040" y2="412" stroke="#fff" stroke-width="1.5" stroke-dasharray="2 2"/>
<circle cx="1002" cy="411" r="1.8" fill="#e01010"/><circle cx="1017" cy="412" r="1.8" fill="#e01010"/><circle cx="1035" cy="413" r="1.8" fill="#e01010"/>
<g fill="#d8a810" stroke="#8a6a00" stroke-width="0.4">
<circle cx="1005" cy="437" r="3"/><circle cx="1011" cy="437" r="3"/><circle cx="1017" cy="437" r="3"/><circle cx="1023" cy="437" r="3"/><circle cx="1029" cy="437" r="3"/><circle cx="1035" cy="437" r="3"/>
<circle cx="1008" cy="431" r="3"/><circle cx="1014" cy="431" r="3"/><circle cx="1020" cy="431" r="3"/><circle cx="1026" cy="431" r="3"/><circle cx="1032" cy="431" r="3"/>
<circle cx="1011" cy="425" r="3"/><circle cx="1017" cy="425" r="3"/><circle cx="1023" cy="425" r="3"/><circle cx="1029" cy="425" r="3"/>
<circle cx="1014" cy="419" r="3"/><circle cx="1020" cy="419" r="3"/><circle cx="1026" cy="419" r="3"/>
</g>
<rect x="997" y="439" width="48" height="2" fill="#7ac040"/>
<rect x="990" y="441" width="62" height="8" fill="#aab4cc"/>
<text x="1021" y="448" font-size="6" fill="#fff" text-anchor="middle">Al<tspan font-size="4" dy="1.5">2</tspan><tspan dy="-1.5">O</tspan><tspan font-size="4" dy="1.5">3</tspan></text>
<text x="1019" y="430" font-size="7" font-weight="bold" fill="#fff" text-anchor="middle">Pd</text>
<text x="957" y="414" font-size="6.5" font-weight="bold" fill="#fff">Oligomeric</text>
<text x="965" y="423" font-size="6.5" font-weight="bold" fill="#fff">MgO</text>
<line x1="985" y1="425" x2="998" y2="438" stroke="#fff" stroke-width="0.8"/>
<line x1="1023" y1="512" x2="1047" y2="538" stroke="#fff" stroke-width="1.5" stroke-dasharray="2 2"/>
<circle cx="1023" cy="512" r="1.8" fill="#e01010"/><circle cx="1032" cy="521" r="1.8" fill="#e01010"/><circle cx="1043" cy="533" r="1.8" fill="#e01010"/>
<path d="M997,547 Q1020,525 1047,547" fill="none" stroke="#fff" stroke-width="1.5"/>
<g fill="#d8a810" stroke="#8a6a00" stroke-width="0.4">
<circle cx="1005" cy="544" r="3"/><circle cx="1011" cy="544" r="3"/><circle cx="1017" cy="544" r="3"/><circle cx="1023" cy="544" r="3"/><circle cx="1029" cy="544" r="3"/><circle cx="1035" cy="544" r="3"/>
<circle cx="1008" cy="538" r="3"/><circle cx="1014" cy="538" r="3"/><circle cx="1020" cy="538" r="3"/><circle cx="1026" cy="538" r="3"/><circle cx="1032" cy="538" r="3"/>
<circle cx="1014" cy="532" r="3"/><circle cx="1020" cy="532" r="3"/><circle cx="1026" cy="532" r="3"/>
</g>
<rect x="990" y="547" width="63" height="8" fill="#aab4cc"/>
<text x="1021" y="554" font-size="6" fill="#fff" text-anchor="middle">Al<tspan font-size="4" dy="1.5">2</tspan><tspan dy="-1.5">O</tspan><tspan font-size="4" dy="1.5">3</tspan></text>
<text x="1018" y="528" font-size="7" font-weight="bold" fill="#fff" text-anchor="middle">Pd</text>
<text x="958" y="525" font-size="6.5" font-weight="bold" fill="#fff">Crystallized</text>
<text x="970" y="534" font-size="6.5" font-weight="bold" fill="#fff">MgO</text>
<line x1="990" y1="535" x2="1000" y2="545" stroke="#fff" stroke-width="0.8"/>
<path d="M1100,442 Q1045,430 1060,395 Q1070,372 1093,366" fill="none" stroke="#1e8a3a" stroke-width="5"/>
<polygon points="1090,359 1101,365 1092,373" fill="#1e8a3a"/>
<text x="1070" y="386" font-size="7" fill="#c0e8a0">C=O</text>
<text x="1067" y="422" font-size="7" fill="#c0e8a0">C=C</text>
<path d="M1100,462 Q1055,470 1060,505 Q1068,530 1092,537" fill="none" stroke="#5a8ad0" stroke-width="5"/>
<polygon points="1090,530 1101,538 1090,544" fill="#5a8ad0"/>
<g stroke="#111" stroke-width="1.2" fill="none">
<polyline points="1148,366 1153,375 1167,375 1172,366 1160,359 1148,366"/>
<polyline points="1148,366 1136,360 1128,367"/>
<polyline points="1172,366 1184,360 1192,367"/>
<polyline points="1148,448 1153,463 1173,463 1178,448 1163,438 1148,448"/>
<line x1="1155" y1="460" x2="1152" y2="450"/><line x1="1171" y1="460" x2="1174" y2="450"/>
<polyline points="1148,448 1133,440 1122,450"/>
<polyline points="1178,448 1193,440 1205,449"/>
<line x1="1190" y1="444" x2="1202" y2="452"/>
<polyline points="1148,530 1153,540 1167,540 1172,530 1160,523 1148,530"/>
<polyline points="1148,530 1136,524 1128,531"/>
<polyline points="1172,530 1184,524 1192,530"/>
<line x1="1181" y1="527" x2="1189" y2="533"/>
</g>
<g class="tm" fill="#111">
<text x="1118" y="372" font-size="7">HO</text><text x="1192" y="372" font-size="7">OH</text>
<text x="1103" y="459" font-size="10">HO</text><text x="1203" y="459" font-size="10">O</text>
<text x="1118" y="536" font-size="7">HO</text><text x="1193" y="536" font-size="7">O</text>
</g>
<rect x="1157" y="355" width="6" height="7" fill="#fff"/><text x="1157" y="361" class="tm" font-size="7" fill="#111">O</text>
<rect x="1158" y="432" width="9" height="9" fill="#fff"/><text x="1158" y="440" class="tm" font-size="10" fill="#111">O</text>
<rect x="1157" y="519" width="6" height="7" fill="#fff"/><text x="1157" y="525" class="tm" font-size="7" fill="#111">O</text>
<text x="1160" y="390" font-size="8" font-weight="bold" fill="#2a9a3a" text-anchor="middle">96.2% Yield</text>
<text x="1163" y="559" font-size="8" font-weight="bold" fill="#5a8ad0" text-anchor="middle">82.4% Yield</text>
<text x="958" y="583" class="capb" textLength="262" lengthAdjust="spacingAndGlyphs">Pd-MgO催化HMF加氢选择性调控</text>
</svg>
</body></html>
